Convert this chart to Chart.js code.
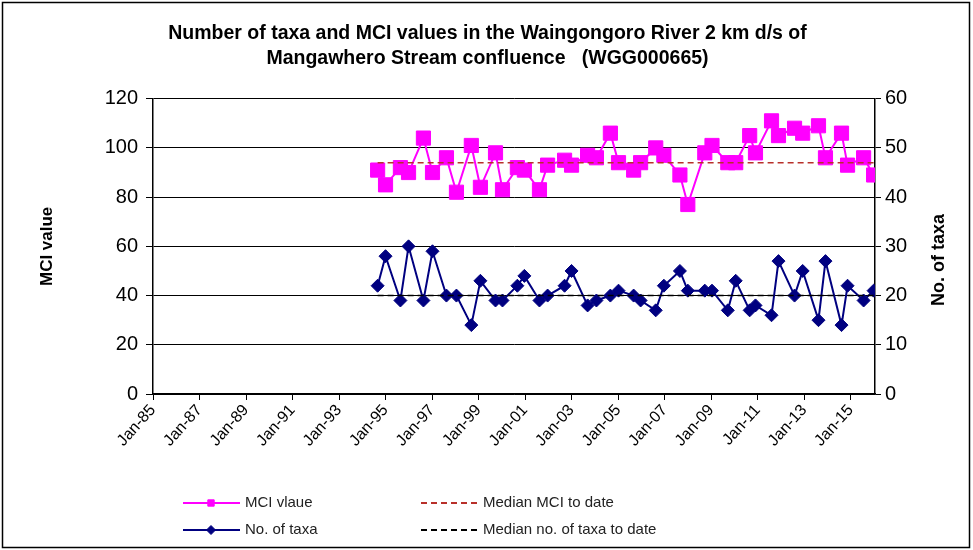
<!DOCTYPE html>
<html>
<head>
<meta charset="utf-8">
<script src="https://cdn.jsdelivr.net/npm/chart.js@4.4.0/dist/chart.umd.min.js"></script>
<style>
  html, body { margin: 0; padding: 0; background: #fff; }
  #wrap { width: 973px; height: 550px; }
</style>
</head>
<body>
<div id="wrap"><canvas id="chart" width="973" height="550"></canvas></div>
<script>
// sample dates as decimal years
const sampleDates = [1994.66, 1995.0, 1995.64, 1995.99, 1996.63, 1997.02, 1997.62, 1998.05, 1998.69, 1999.08,
                     1999.73, 2000.03, 2000.67, 2000.97, 2001.62, 2001.97, 2002.70, 2003.0, 2003.69, 2004.07,
                     2004.67, 2005.02, 2005.67, 2005.97, 2006.62, 2006.97, 2007.66, 2008.0, 2008.73, 2009.04,
                     2009.72, 2010.06, 2010.66, 2010.91, 2011.6, 2011.9, 2012.59, 2012.94, 2013.62, 2013.92,
                     2014.61, 2014.87, 2015.56, 2015.99];
const mciValues = [91, 85, 92, 90, 104, 90, 96, 82, 101, 84,
                   98, 83, 92, 91, 83, 93, 95, 93, 97, 96,
                   106, 94, 91, 94, 100, 97, 89, 77, 98, 101,
                   94, 94, 105, 98, 111, 105, 108, 106, 109, 96,
                   106, 93, 96, 89];
const taxaValues = [22, 28, 19, 30, 19, 29, 20, 20, 14, 23,
                    19, 19, 22, 24, 19, 20, 22, 25, 18, 19,
                    20, 21, 20, 19, 17, 22, 25, 21, 21, 21,
                    17, 23, 17, 18, 16, 27, 20, 25, 15, 27,
                    14, 22, 19, 21];
const medianDates = [1994.66, 2015.99];
const medianMci = [94, 94];
const medianTaxa = [20, 20];

const tickYears = [1985, 1987, 1989, 1991, 1993, 1995, 1997, 1999, 2001, 2003, 2005, 2007, 2009, 2011, 2013, 2015];
const tickLabels = ['Jan-85', 'Jan-87', 'Jan-89', 'Jan-91', 'Jan-93', 'Jan-95', 'Jan-97', 'Jan-99',
                    'Jan-01', 'Jan-03', 'Jan-05', 'Jan-07', 'Jan-09', 'Jan-11', 'Jan-13', 'Jan-15'];

const FONT = '"Liberation Sans", Arial, sans-serif';

const pts = (xs, ys) => xs.map((x, i) => ({ x: x, y: ys[i] }));

// frame, right axis title and a 2x2 legend
const extras = {
    id: 'extras',
    afterDraw(chart) {
        const ctx = chart.ctx;
        ctx.save();
        ctx.strokeStyle = '#000';
        ctx.lineWidth = 1.5;
        ctx.strokeRect(2.5, 2.5, 967, 545);

        // right axis title, reads bottom to top
        ctx.fillStyle = '#000';
        ctx.font = 'bold 18px ' + FONT;
        ctx.textAlign = 'center';
        ctx.textBaseline = 'middle';
        ctx.translate(939, 260);
        ctx.rotate(-Math.PI / 2);
        ctx.fillText('No. of taxa', 0, 0);
        ctx.restore();

        const cols = [183, 421];
        const rows = [503, 530];
        chart.data.datasets.forEach((ds, i) => {
            const x = cols[Math.floor(i / 2)];
            const y = rows[i % 2];
            ctx.save();
            ctx.strokeStyle = ds.borderColor;
            ctx.lineWidth = 2;
            ctx.setLineDash(ds.borderDash || []);
            ctx.beginPath();
            ctx.moveTo(x, y);
            ctx.lineTo(x + 57, y);
            ctx.stroke();
            ctx.setLineDash([]);
            if (ds.pointRadius > 0) {
                ctx.fillStyle = ds.pointBackgroundColor;
                ctx.strokeStyle = ds.pointBorderColor;
                ctx.lineWidth = 1;
                Chart.helpers.drawPoint(ctx, { pointStyle: ds.pointStyle, radius: 4.5, rotation: 0, borderWidth: 1 }, x + 28, y);
            }
            ctx.fillStyle = '#222';
            ctx.font = '15px ' + FONT;
            ctx.textAlign = 'left';
            ctx.textBaseline = 'middle';
            ctx.fillText(ds.label, x + 62, y);
            ctx.restore();
        });
    }
};

new Chart(document.getElementById('chart'), {
    type: 'line',
    data: {
        datasets: [
            {
                label: 'MCI vlaue',
                data: pts(sampleDates, mciValues),
                yAxisID: 'y',
                borderColor: '#ff00ff',
                borderWidth: 2,
                pointStyle: 'rect',
                pointRadius: 10,
                pointBackgroundColor: '#ff00ff',
                pointBorderColor: '#ff00ff',
                pointBorderWidth: 1,
                order: 2
            },
            {
                label: 'No. of taxa',
                data: pts(sampleDates, taxaValues),
                yAxisID: 'y1',
                borderColor: '#000080',
                borderWidth: 2,
                pointStyle: 'rectRot',
                pointRadius: 6.5,
                pointBackgroundColor: '#000080',
                pointBorderColor: '#000080',
                pointBorderWidth: 1,
                order: 2
            },
            {
                label: 'Median MCI to date',
                data: pts(medianDates, medianMci),
                yAxisID: 'y',
                borderColor: '#b8302a',
                borderWidth: 1.5,
                borderDash: [6, 4],
                pointRadius: 0,
                order: 1
            },
            {
                label: 'Median no. of taxa to date',
                data: pts(medianDates, medianTaxa),
                yAxisID: 'y1',
                borderColor: '#000000',
                borderWidth: 1.5,
                borderDash: [6, 4],
                pointRadius: 0,
                order: 1
            }
        ]
    },
    options: {
        responsive: false,
        animation: false,
        layout: { padding: { left: 22, right: 20, top: 0, bottom: 86 } },
        plugins: {
            legend: { display: false },
            tooltip: { enabled: false },
            title: {
                display: true,
                text: ['Number of taxa and MCI values in the Waingongoro River 2 km d/s of',
                       'Mangawhero Stream confluence   (WGG000665)'],
                color: '#000',
                font: { family: FONT, size: 19.5, weight: 'bold', lineHeight: 1.3 },
                padding: { top: 21, bottom: 27 }
            }
        },
        scales: {
            x: {
                type: 'linear',
                min: 1985,
                max: 2016.05,
                afterBuildTicks: s => { s.ticks = tickYears.map(v => ({ value: v })); },
                afterFit: s => { s.height = 70; },
                ticks: {
                    callback: (v, i) => tickLabels[i],
                    minRotation: 48,
                    maxRotation: 48,
                    autoSkip: false,
                    color: '#000',
                    padding: 1,
                    font: { family: FONT, size: 16 }
                },
                grid: { drawOnChartArea: false, drawTicks: true, tickLength: 6, color: '#000' },
                border: { color: '#000', width: 1.5 }
            },
            y: {
                position: 'left',
                min: 0,
                max: 120,
                afterFit: s => { s.width = 131; },
                ticks: { stepSize: 20, color: '#000', padding: 8, font: { family: FONT, size: 20 } },
                grid: { color: '#000', lineWidth: 1, tickLength: 7 },
                border: { color: '#000', width: 1.5 },
                title: {
                    display: true,
                    text: 'MCI value',
                    color: '#000',
                    font: { family: FONT, size: 17, weight: 'bold' },
                    padding: { top: 15, bottom: 0 }
                }
            },
            y1: {
                position: 'right',
                min: 0,
                max: 60,
                afterFit: s => { s.width = 78; },
                ticks: { stepSize: 10, color: '#000', padding: 4, font: { family: FONT, size: 20 } },
                grid: { drawOnChartArea: false, color: '#000', tickLength: 6 },
                border: { color: '#000', width: 1.5 }
            }
        }
    },
    plugins: [extras]
});
</script>
</body>
</html>
